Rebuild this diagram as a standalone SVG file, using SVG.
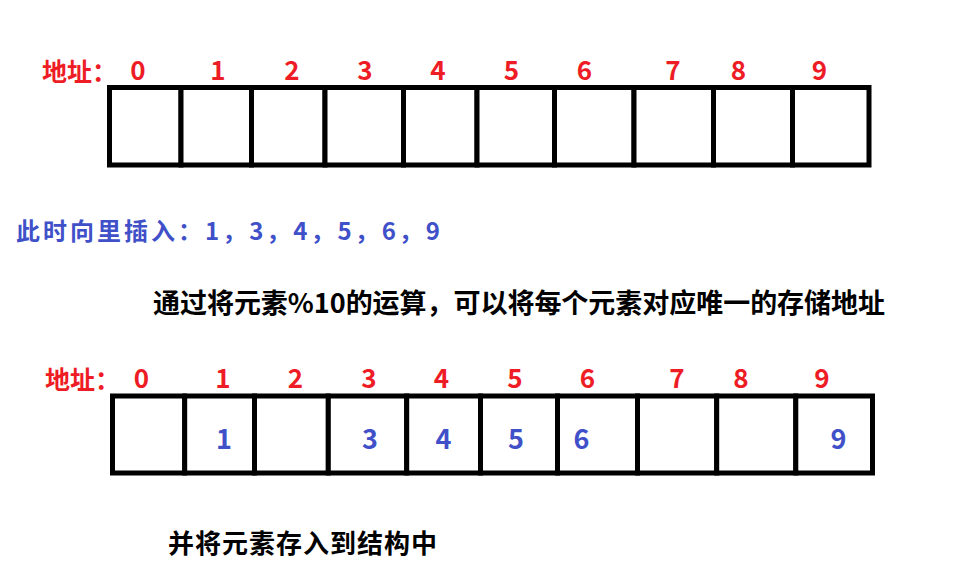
<svg xmlns="http://www.w3.org/2000/svg" width="962" height="582" viewBox="0 0 962 582">
<style>
.cell{fill:#fff;stroke:#000;stroke-width:5}
.t{font-family:"Microsoft YaHei","Noto Sans CJK SC","Noto Sans",sans-serif;font-weight:bold}
.red{fill:#EE1C25;font-size:25px}
.dig{fill:#EE1C25;font-size:26px;text-anchor:middle}
.blue{fill:#4050C8}
.val{fill:#4050C8;font-size:27px;text-anchor:middle}
.blk{fill:#000}
</style>
<rect width="962" height="582" fill="#fff"/>
<g id="labels-top" class="t">
<text class="red" x="42" y="81">地址：</text>
<text class="dig" x="138" y="80">0</text>
<text class="dig" x="218" y="80">1</text>
<text class="dig" x="292" y="80">2</text>
<text class="dig" x="365" y="80">3</text>
<text class="dig" x="438" y="80">4</text>
<text class="dig" x="511.5" y="80">5</text>
<text class="dig" x="584.5" y="80">6</text>
<text class="dig" x="673" y="80">7</text>
<text class="dig" x="738.5" y="80">8</text>
<text class="dig" x="819.5" y="80">9</text>
</g>
<g id="array-top">
<rect class="cell" x="109.5" y="87.5" width="71.5" height="77.5"/>
<rect class="cell" x="181" y="87.5" width="70.5" height="77.5"/>
<rect class="cell" x="251.5" y="87.5" width="73.5" height="77.5"/>
<rect class="cell" x="325" y="87.5" width="78.5" height="77.5"/>
<rect class="cell" x="403.5" y="87.5" width="73.5" height="77.5"/>
<rect class="cell" x="477" y="87.5" width="77.5" height="77.5"/>
<rect class="cell" x="554.5" y="87.5" width="79.5" height="77.5"/>
<rect class="cell" x="634" y="87.5" width="79.5" height="77.5"/>
<rect class="cell" x="713.5" y="87.5" width="79" height="77.5"/>
<rect class="cell" x="792.5" y="87.5" width="76.5" height="77.5"/>
</g>
<g id="insert-text" class="t">
<text class="blue" x="16" y="240" font-size="24" textLength="424" lengthAdjust="spacing">此时向里插入：1，3，4，5，6，9</text>
</g>
<g id="desc-text" class="t">
<text class="blk" x="153" y="313" font-size="27" textLength="732" lengthAdjust="spacing">通过将元素%10的运算，可以将每个元素对应唯一的存储地址</text>
</g>
<g id="labels-bottom" class="t">
<text class="red" x="45" y="389">地址：</text>
<text class="dig" x="141.5" y="388">0</text>
<text class="dig" x="223" y="388">1</text>
<text class="dig" x="295.5" y="388">2</text>
<text class="dig" x="369" y="388">3</text>
<text class="dig" x="441.5" y="388">4</text>
<text class="dig" x="515" y="388">5</text>
<text class="dig" x="587.5" y="388">6</text>
<text class="dig" x="677" y="388">7</text>
<text class="dig" x="741" y="388">8</text>
<text class="dig" x="822" y="388">9</text>
</g>
<g id="array-bottom">
<rect class="cell" x="112.5" y="396" width="72.2" height="77"/>
<rect class="cell" x="184.7" y="396" width="69.8" height="77"/>
<rect class="cell" x="254.5" y="396" width="73.8" height="77"/>
<rect class="cell" x="328.3" y="396" width="78.4" height="77"/>
<rect class="cell" x="406.7" y="396" width="73.8" height="77"/>
<rect class="cell" x="480.5" y="396" width="77" height="77"/>
<rect class="cell" x="557.5" y="396" width="80" height="77"/>
<rect class="cell" x="637.5" y="396" width="79.2" height="77"/>
<rect class="cell" x="716.7" y="396" width="79.1" height="77"/>
<rect class="cell" x="795.8" y="396" width="76.7" height="77"/>
</g>
<g id="values" class="t">
<text class="val" x="224" y="449">1</text>
<text class="val" x="370" y="449">3</text>
<text class="val" x="443.5" y="449">4</text>
<text class="val" x="516" y="449">5</text>
<text class="val" x="581.5" y="449">6</text>
<text class="val" x="838.5" y="449">9</text>
</g>
<g id="store-text" class="t">
<text class="blk" x="168" y="553" font-size="26" textLength="269" lengthAdjust="spacing">并将元素存入到结构中</text>
</g>
</svg>
